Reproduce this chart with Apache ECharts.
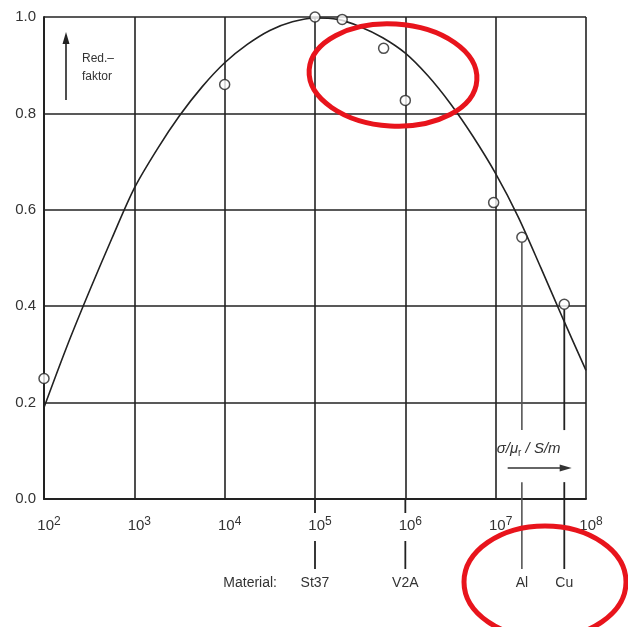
<!DOCTYPE html>
<html>
<head>
<meta charset="utf-8">
<script src="https://cdn.jsdelivr.net/npm/echarts@6/dist/echarts.min.js"></script>
<style>
html,body{margin:0;padding:0;background:#fff;}
#c{width:628px;height:627px;}
</style>
</head>
<body>
<div id="c"></div>
<script>
// Measured points (sigma/mu_r in S/m, reduction factor)
const measX = [1e2, 1e4, 1e5, 2e5, 5.75e5, 1e6, 9.5e6, 1.95e7, 5.75e7];
const measY = [0.25, 0.86, 1.0, 0.995, 0.935, 0.827, 0.615, 0.543, 0.404];
// Fitted curve (every quarter decade)
const curveX = [1e2, 1.78e2, 3.16e2, 5.62e2, 1e3, 1.78e3, 3.16e3, 5.62e3, 1e4, 1.78e4, 3.16e4, 5.62e4,
                1e5, 1.78e5, 3.16e5, 5.62e5, 1e6, 1.78e6, 3.16e6, 5.62e6, 1e7, 1.78e7, 3.16e7, 5.62e7, 1e8];
const curveY = [0.19, 0.315, 0.43, 0.54, 0.645, 0.725, 0.795, 0.855, 0.905, 0.943, 0.972, 0.99,
                0.998, 0.995, 0.98, 0.957, 0.925, 0.878, 0.82, 0.752, 0.675, 0.585, 0.48, 0.372, 0.267];
// Materials marked below the axis
const materials = ['St37', 'V2A', 'Al', 'Cu'];
const materialX = [1e5, 1e6, 1.95e7, 5.75e7];
const materialY = [null, null, 0.543, 0.404];

const chart = echarts.init(document.getElementById('c'), null, {renderer: 'canvas'});
const FONT = '"Liberation Sans", Arial, sans-serif';
const INK = '#222';

chart.setOption({
  animation: false,
  backgroundColor: '#fff',
  grid: {left: 44, right: 42, top: 17, bottom: 128, containLabel: false},
  xAxis: {
    type: 'log', logBase: 10, min: 1e2, max: 1e8,
    axisLine: {show: true, lineStyle: {color: INK, width: 2}},
    axisTick: {show: false},
    splitLine: {show: true, lineStyle: {color: INK, width: 1.6}},
    minorSplitLine: {show: false},
    axisLabel: {
      margin: 17,
      color: '#333',
      fontFamily: FONT,
      fontSize: 15,
      padding: [0, 0, 0, 10],
      formatter: function (v) {
        const e = Math.round(Math.log10(v));
        return '10{s|' + e + '}';
      },
      rich: {s: {fontSize: 12, fontFamily: FONT, color: '#333', verticalAlign: 'top', padding: [0, 0, 8, 0]}}
    }
  },
  yAxis: {
    type: 'value', min: 0, max: 1, interval: 0.2,
    axisLine: {show: true, lineStyle: {color: INK, width: 2}},
    axisTick: {show: false},
    splitLine: {show: true, lineStyle: {color: INK, width: 1.6}},
    axisLabel: {
      margin: 8, color: '#333', fontFamily: FONT, fontSize: 15,
      formatter: v => v.toFixed(1)
    }
  },
  series: [
    {
      type: 'line', smooth: 0.3, showSymbol: false, silent: true,
      data: curveX.map((x, i) => [x, curveY[i]]),
      lineStyle: {color: INK, width: 1.6},
      z: 3
    },
    {
      type: 'scatter', symbol: 'circle', symbolSize: 10,
      data: measX.map((x, i) => [x, measY[i]]),
      itemStyle: {color: '#fff', borderColor: INK, borderWidth: 1.5},
      z: 5
    }
  ]
});

function px(x, y) { return chart.convertToPixel({gridIndex: 0}, [x, y]); }

const els = [];
const yAxis0 = px(1e2, 0)[1];
const lineStyleDark = {stroke: INK, lineWidth: 1.8};
const lineStyleGrey = {stroke: '#555', lineWidth: 1.6};

materials.forEach((m, i) => {
  const p = px(materialX[i], 0);
  const x = p[0];
  if (materialY[i] === null) {
    els.push({type: 'line', shape: {x1: x, y1: yAxis0, x2: x, y2: yAxis0 + 14}, style: lineStyleDark, z: 10});
    els.push({type: 'line', shape: {x1: x, y1: yAxis0 + 42, x2: x, y2: yAxis0 + 70}, style: lineStyleDark, z: 10});
  } else {
    const top = px(materialX[i], materialY[i])[1] + 5;
    const brk = px(materialX[i], 0.143)[1];
    const res = px(materialX[i], 0.035)[1];
    const st = i === 2 ? lineStyleGrey : lineStyleDark;
    els.push({type: 'line', shape: {x1: x, y1: top, x2: x, y2: brk}, style: st, z: 10});
    els.push({type: 'line', shape: {x1: x, y1: res, x2: x, y2: yAxis0 + 70}, style: st, z: 10});
  }
  els.push({type: 'text', x: x, y: yAxis0 + 84, style: {text: m, font: '14px ' + FONT, fill: '#333', align: 'center', verticalAlign: 'middle'}, z: 10});
});
els.push({type: 'text', x: 277, y: yAxis0 + 84, style: {text: 'Material:', font: '14px ' + FONT, fill: '#333', align: 'right', verticalAlign: 'middle'}, z: 10});

// Unit label in lower right cell
const p7 = px(1e7, 0.1);
els.push({type: 'text', x: p7[0] + 1, y: yAxis0 - 50, style: {
  text: 'σ/μ{r|r} / S/m', font: 'italic 15px ' + FONT, fill: '#333', align: 'left', verticalAlign: 'middle',
  rich: {r: {font: '10px ' + FONT, fill: '#333', verticalAlign: 'bottom', padding: [9, 0, 0, 0]}}
}, z: 10});
els.push({type: 'line', shape: {x1: p7[0] + 12, y1: yAxis0 - 31, x2: p7[0] + 70, y2: yAxis0 - 31}, style: {stroke: '#333', lineWidth: 1.3}, z: 10});
els.push({type: 'polygon', shape: {points: [[p7[0] + 76, yAxis0 - 31], [p7[0] + 64, yAxis0 - 34.5], [p7[0] + 64, yAxis0 - 27.5]]}, style: {fill: '#333'}, z: 10});

// Axis title with up arrow
els.push({type: 'line', shape: {x1: 66, y1: 100, x2: 66, y2: 42}, style: {stroke: INK, lineWidth: 1.6}, z: 10});
els.push({type: 'polygon', shape: {points: [[66, 32], [62.5, 44], [69.5, 44]]}, style: {fill: INK}, z: 10});
els.push({type: 'text', x: 82, y: 59, style: {text: 'Red.–', font: '12px ' + FONT, fill: '#333', align: 'left', verticalAlign: 'middle'}, z: 10});
els.push({type: 'text', x: 82, y: 77, style: {text: 'faktor', font: '12px ' + FONT, fill: '#333', align: 'left', verticalAlign: 'middle'}, z: 10});

// Red annotation ellipses
els.push({type: 'ellipse', shape: {cx: 393, cy: 75, rx: 84, ry: 51}, rotation: -0.06, originX: 393, originY: 75, style: {fill: 'none', stroke: '#e8141c', lineWidth: 5}, z: 20});
els.push({type: 'ellipse', shape: {cx: 545, cy: 582, rx: 81, ry: 56}, style: {fill: 'none', stroke: '#e8141c', lineWidth: 5}, z: 20});

chart.setOption({graphic: {elements: els}});
</script>
</body>
</html>
